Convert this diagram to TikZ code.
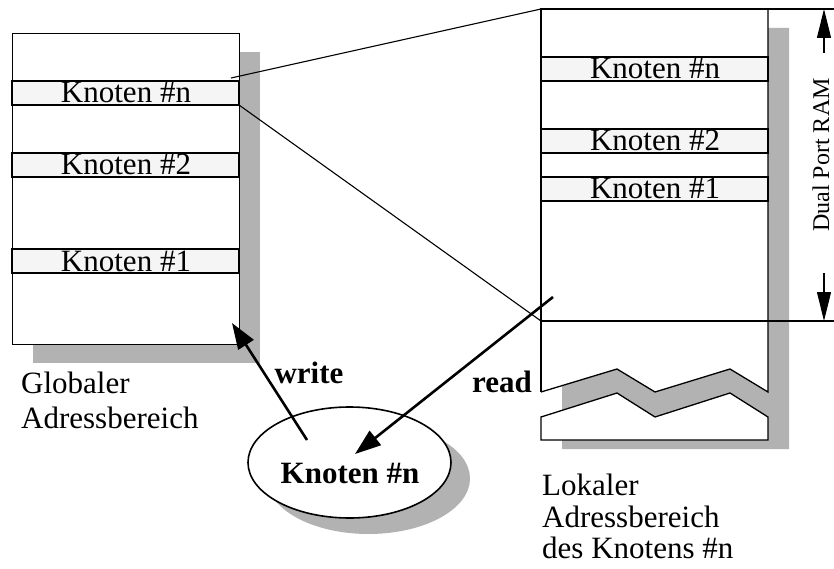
\documentclass[tikz,border=0pt]{standalone}
\usepackage{fontspec}
\setmainfont{Liberation Serif}
\usetikzlibrary{arrows.meta,shapes.geometric}
\definecolor{shadowgray}{gray}{0.70}
\definecolor{slot}{gray}{0.96}

\begin{document}
\begin{tikzpicture}[x=1pt,y=-1pt,
  frame/.style={draw=black,line width=1.3pt,fill=white},
  slotbox/.style={draw=black,line width=1.3pt,fill=slot},
  slottext/.style={font=\fontsize{31}{31}\selectfont,anchor=base,inner sep=0pt},
  caption/.style={font=\fontsize{31}{31}\selectfont,anchor=base west,inner sep=0pt},
  mapline/.style={line width=1.1pt},
  bigarrow/.style={line width=2.6pt,-{Triangle[length=26pt,width=18pt]}},
  dimarrow/.style={line width=1.1pt,-{Triangle[length=29pt,width=14pt]}},
  boldlabel/.style={font=\fontsize{31}{31}\selectfont\bfseries,anchor=base,inner sep=0pt}]

\useasboundingbox (0,0) rectangle (834,569);

% ---------- shadows ----------
\fill[shadowgray] (33,52) rectangle (260,363);
\fill[shadowgray] (562,386) -- (617,369) -- (655,392) -- (730,369) -- (768,392)
  -- (768,28) -- (789,28) -- (789,449) -- (562,449) -- cycle;
\fill[shadowgray] (368.5,478.5) ellipse [x radius=101.5pt, y radius=55.5pt];

% ---------- global address space ----------
\node[frame,rectangle,minimum width=227pt,minimum height=311pt,inner sep=0pt,anchor=north west]
  (global) at (12,33) {};
\draw[slotbox] (12,81) rectangle (239,105);
\draw[slotbox] (12,153) rectangle (239,177);
\draw[slotbox] (12,249) rectangle (239,273);
\node[slottext] (gn) at (126,103) {Knoten \#n};
\node[slottext] (g2) at (126,175) {Knoten \#2};
\node[slottext] (g1) at (126,271) {Knoten \#1};

% ---------- local address space (broken box) ----------
\fill[white] (541,9) -- (768,9) -- (768,392) -- (730,369) -- (655,392)
  -- (617,369) -- (541,392) -- cycle;
\draw[line width=1.3pt] (541,392) -- (541,9) -- (834,9);
\draw[line width=1.3pt] (768,9) -- (768,392) -- (730,369) -- (655,392)
  -- (617,369) -- (541,392);
\draw[frame] (541,417) -- (617,393) -- (655,417) -- (730,393) -- (768,417)
  -- (768,440) -- (541,440) -- cycle;
\draw[line width=1.3pt] (541,321) -- (834,321);
\coordinate (ltop) at (541,9);
\coordinate (lram) at (541,321);

\draw[slotbox] (541,57) rectangle (768,81);
\draw[slotbox] (541,129) rectangle (768,153);
\draw[slotbox] (541,177) rectangle (768,201);
\node[slottext] (ln) at (655,79) {Knoten \#n};
\node[slottext] (l2) at (655,151) {Knoten \#2};
\node[slottext] (l1) at (655,199) {Knoten \#1};

% ---------- dual port RAM extent ----------
\coordinate (dtop) at (824,9);
\coordinate (dbot) at (824,321);
\coordinate (dtopfrom) at (824,53);
\coordinate (dbotfrom) at (824,273);
\draw[dimarrow] (dtopfrom) -- (dtop);
\draw[dimarrow] (dbotfrom) -- (dbot);
\node[rotate=90,font=\fontsize{24}{24}\selectfont,inner sep=0pt] (dpr) at (821,155) {Dual Port RAM};

% ---------- mapping of node #n slot ----------
\coordinate (gslot) at (231,78);
\coordinate (gcorner) at (239,105);
\draw[mapline] (gslot) -- (ltop);
\draw[mapline] (gcorner) -- (lram);

% ---------- node #n ----------
\node[ellipse,draw=black,line width=1.6pt,fill=white,minimum width=203pt,
  minimum height=111pt,inner sep=0pt] (knoten) at (349.5,462.5) {};
\node[boldlabel] (ktext) at (350,483) {Knoten \#n};

% ---------- access arrows ----------
\coordinate (wfrom) at (307,440);
\coordinate (wto) at (232,323);
\coordinate (rfrom) at (553,297);
\coordinate (rto) at (355,454);
\draw[bigarrow] (wfrom) -- (wto);
\draw[bigarrow] (rfrom) -- (rto);
\node[boldlabel] (wlabel) at (309,383) {write};
\node[boldlabel] (rlabel) at (502,392) {read};

% ---------- captions ----------
\node[caption] (gcap1) at (21,393) {Globaler};
\node[caption] (gcap2) at (21,428) {Adressbereich};
\node[caption] (lcap1) at (542,495) {Lokaler};
\node[caption] (lcap2) at (542,527) {Adressbereich};
\node[caption] (lcap3) at (542,558) {des Knotens \#n};

\end{tikzpicture}
\end{document}
